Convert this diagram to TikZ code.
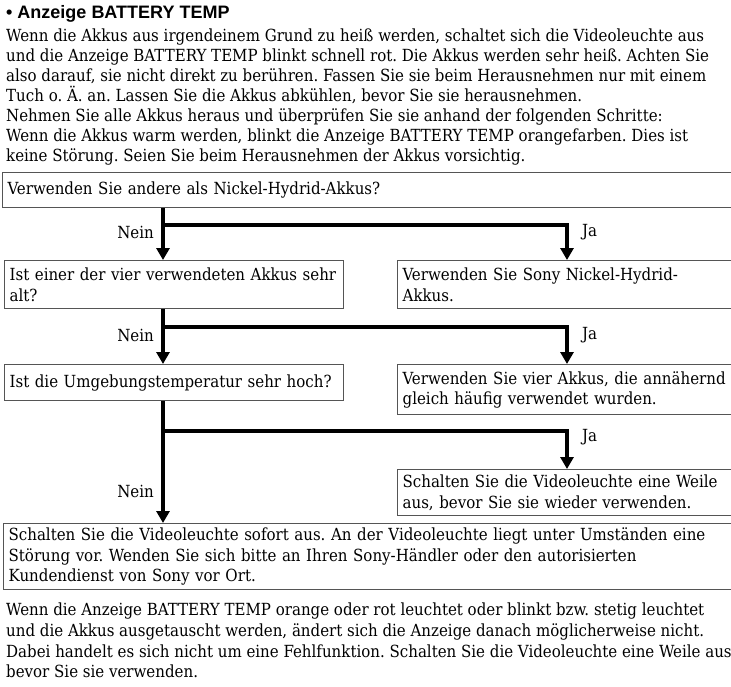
\documentclass[tikz,border=0pt]{standalone}
\usepackage{fontspec}
\setmainfont{DejaVu Serif Condensed}
\newfontfamily\headfont{Liberation Sans}
\usetikzlibrary{arrows.meta}
\definecolor{boxgray}{RGB}{85,85,85}
\newcommand\bodyfont{\frenchspacing\fontsize{16.7}{20.3}\selectfont}
\begin{document}
\begin{tikzpicture}[x=1pt,y=-1pt,
  para/.style={inner sep=0pt, anchor=north west, align=left},
  box/.style={draw=boxgray, line width=1.3pt, anchor=north west, inner xsep=5pt,
    inner ysep=0pt, align=left, font=\bodyfont},
  flow/.style={line width=3.6pt, -{Triangle[width=13pt,length=12pt]}},
  lbl/.style={font=\bodyfont, inner sep=0pt}]
\clip (0,0) rectangle (731,686);

% heading and introduction
\node[inner sep=0pt, anchor=north west, font=\headfont\bfseries\fontsize{18}{20}\selectfont]
  (head) at (6,5) {• Anzeige BATTERY TEMP};
\node[para, font=\bodyfont\fontsize{16.7}{20}\selectfont] (intro) at (6,29)
{Wenn die Akkus aus irgendeinem Grund zu heiß werden, schaltet sich die Videoleuchte aus\\
und die Anzeige BATTERY TEMP blinkt schnell rot. Die Akkus werden sehr heiß. Achten Sie\\
also darauf, sie nicht direkt zu berühren. Fassen Sie sie beim Herausnehmen nur mit einem\\
Tuch o. Ä. an. Lassen Sie die Akkus abkühlen, bevor Sie sie herausnehmen.\\
Nehmen Sie alle Akkus heraus und überprüfen Sie sie anhand der folgenden Schritte:\\
Wenn die Akkus warm werden, blinkt die Anzeige BATTERY TEMP orangefarben. Dies ist\\
keine Störung. Seien Sie beim Herausnehmen der Akkus vorsichtig.};

% flowchart boxes
\node[box, minimum width=740, text width=730, minimum height=35] (q1) at (2,172)
  {Verwenden Sie andere als Nickel-Hydrid-Akkus?};
\node[box, minimum width=339, text width=329, minimum height=48] (q2) at (4,260)
  {Ist einer der vier verwendeten Akkus sehr\\alt?};
\node[box, minimum width=345, text width=335, minimum height=48] (a1) at (397,260)
  {Verwenden Sie Sony Nickel-Hydrid-\\Akkus.};
\node[box, minimum width=339, text width=329, minimum height=36] (q3) at (4,364)
  {Ist die Umgebungstemperatur sehr hoch?};
\node[box, minimum width=345, text width=335, minimum height=50] (a2) at (397,364)
  {Verwenden Sie vier Akkus, die annähernd\\gleich häufig verwendet wurden.};
\node[box, minimum width=345, text width=335, minimum height=46] (a3) at (397,469)
  {Schalten Sie die Videoleuchte eine Weile\\aus, bevor Sie sie wieder verwenden.};
\node[box, minimum width=740, text width=730, minimum height=66] (a4) at (3,523)
  {Schalten Sie die Videoleuchte sofort aus. An der Videoleuchte liegt unter Umständen eine\\
   Störung vor. Wenden Sie sich bitte an Ihren Sony-Händler oder den autorisierten\\
   Kundendienst von Sony vor Ort.};

% closing note
\node[para, font=\bodyfont\fontsize{16.7}{20.7}\selectfont] (note) at (6,603)
{Wenn die Anzeige BATTERY TEMP orange oder rot leuchtet oder blinkt bzw. stetig leuchtet\\
und die Akkus ausgetauscht werden, ändert sich die Anzeige danach möglicherweise nicht.\\
Dabei handelt es sich nicht um eine Fehlfunktion. Schalten Sie die Videoleuchte eine Weile aus\\
bevor Sie sie verwenden.};

% connector columns and branch points
\coordinate (sx) at (163,0);
\coordinate (jx) at (567,0);
\coordinate (br1) at (163,225);
\coordinate (br2) at (163,327);
\coordinate (br3) at (163,431);

\draw[flow] (q1.south -| sx) -- (q2.north -| sx);
\draw[flow] (br1) -| (a1.north -| jx);
\draw[flow] (q2.south -| sx) -- (q3.north -| sx);
\draw[flow] (br2) -| (a2.north -| jx);
\draw[flow] (q3.south -| sx) -- (a4.north -| sx);
\draw[flow] (br3) -| (a3.north -| jx);

% branch labels
\node[lbl, anchor=east] (n1) at (154,232) {Nein};
\node[lbl, anchor=west] (j1) at (582,232) {Ja};
\node[lbl, anchor=east] (n2) at (154,335) {Nein};
\node[lbl, anchor=west] (j2) at (582,335) {Ja};
\node[lbl, anchor=east] (n3) at (154,491) {Nein};
\node[lbl, anchor=west] (j3) at (582,437) {Ja};
\end{tikzpicture}
\end{document}
